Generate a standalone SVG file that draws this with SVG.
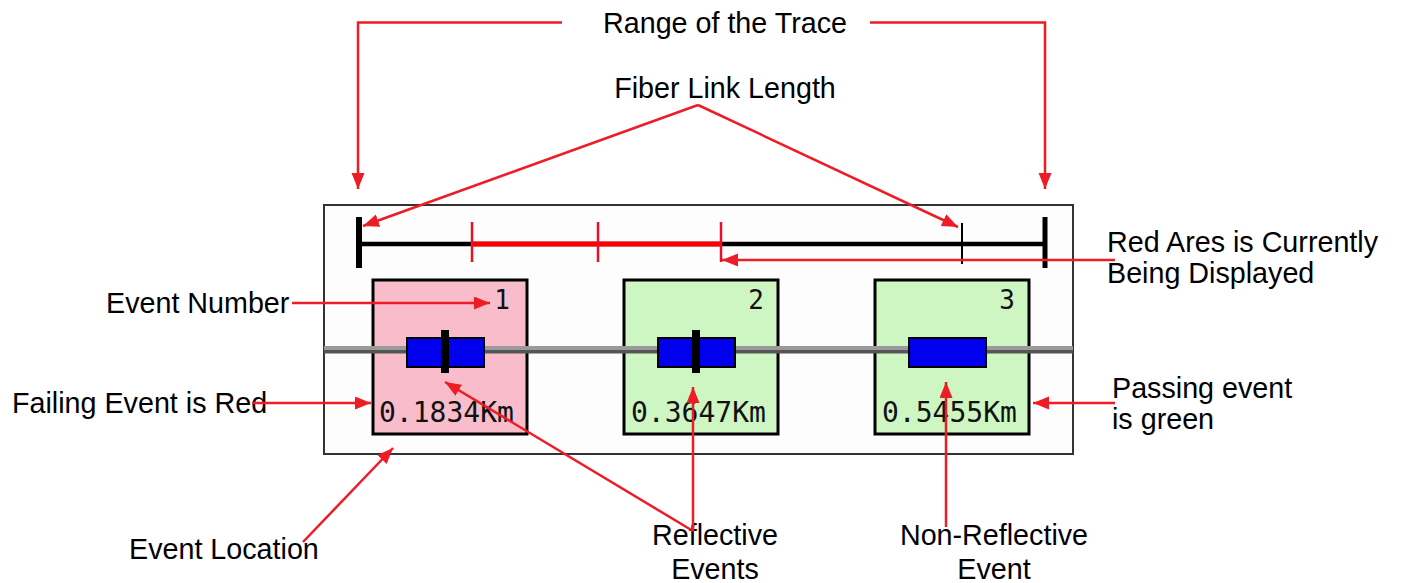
<svg xmlns="http://www.w3.org/2000/svg" width="1402" height="583" viewBox="0 0 1402 583">
<style>
.lbl{font-family:"Liberation Sans",Arial,sans-serif;font-size:28.7px;fill:#000}
.mono{font-family:"DejaVu Sans Mono","Liberation Mono",monospace;fill:#111}
.conn{stroke:#ee1c25;stroke-width:2.5;fill:none;marker-end:url(#ah)}
.evbox{stroke:#000;stroke-width:3}
.blue{fill:#0000ee;stroke:#000;stroke-width:2}
</style>
<defs>
<marker id="ah" markerUnits="userSpaceOnUse" markerWidth="17" markerHeight="14" refX="16" refY="6.5" orient="auto">
<path d="M0,0 L16,6.5 L0,13 Z" fill="#ee1c25"/>
</marker>
</defs>
<rect width="1402" height="583" fill="#fff"/>

<g id="panel">
<rect x="324" y="205" width="749" height="249" fill="#fdfdfd" stroke="#333" stroke-width="2"/>
</g>

<g id="scale">
<line x1="359" y1="244" x2="1045" y2="244" stroke="#000" stroke-width="4.5"/>
<line x1="472" y1="244" x2="721" y2="244" stroke="#f00" stroke-width="5"/>
<line x1="359" y1="217" x2="359" y2="268" stroke="#000" stroke-width="6"/>
<line x1="1045" y1="217" x2="1045" y2="268" stroke="#000" stroke-width="5"/>
<line x1="472" y1="222" x2="472" y2="262" stroke="#e8102a" stroke-width="2.5"/>
<line x1="598" y1="222" x2="598" y2="262" stroke="#e8102a" stroke-width="2.5"/>
<line x1="721" y1="222" x2="721" y2="262" stroke="#e8102a" stroke-width="2.5"/>
<line x1="962" y1="223" x2="962" y2="264" stroke="#000" stroke-width="2"/>
</g>

<g id="event1">
<rect class="evbox" x="373" y="280" width="154" height="154" fill="#f8bccb"/>
</g>
<g id="event2">
<rect class="evbox" x="624" y="280" width="154" height="154" fill="#cdf6c2"/>
</g>
<g id="event3">
<rect class="evbox" x="875" y="280" width="154" height="154" fill="#cdf6c2"/>
</g>

<g id="fiber">
<rect x="324" y="346" width="749" height="4" fill="#9a9a9a"/>
<rect x="324" y="350" width="749" height="3.5" fill="#555"/>
</g>

<g id="event1-marks">
<rect class="blue" x="407" y="338" width="77" height="29"/>
<rect x="441" y="330" width="8" height="43" fill="#000"/>
<text class="mono" x="510" y="309" font-size="26" text-anchor="end">1</text>
<text class="mono" x="379" y="422" font-size="28">0.1834Km</text>
</g>
<g id="event2-marks">
<rect class="blue" x="658" y="338" width="77" height="29"/>
<rect x="692" y="330" width="8" height="43" fill="#000"/>
<text class="mono" x="764" y="309" font-size="26" text-anchor="end">2</text>
<text class="mono" x="631" y="422" font-size="28">0.3647Km</text>
</g>
<g id="event3-marks">
<rect class="blue" x="909" y="338" width="77" height="29"/>
<text class="mono" x="1015" y="309" font-size="26" text-anchor="end">3</text>
<text class="mono" x="882" y="422" font-size="28">0.5455Km</text>
</g>

<g id="labels">
<text class="lbl" x="725" y="33" text-anchor="middle">Range of the Trace</text>
<text class="lbl" x="725" y="98" text-anchor="middle">Fiber Link Length</text>
<text class="lbl" x="1107" y="252">Red Ares is Currently</text>
<text class="lbl" x="1107" y="283">Being Displayed</text>
<text class="lbl" x="106" y="313">Event Number</text>
<text class="lbl" x="12" y="413">Failing Event is Red</text>
<text class="lbl" x="129" y="559">Event Location</text>
<text class="lbl" x="1112" y="398">Passing event</text>
<text class="lbl" x="1112" y="429">is green</text>
<text class="lbl" x="715" y="545" text-anchor="middle">Reflective</text>
<text class="lbl" x="715" y="579" text-anchor="middle">Events</text>
<text class="lbl" x="994" y="545" text-anchor="middle">Non-Reflective</text>
<text class="lbl" x="994" y="579" text-anchor="middle">Event</text>
</g>

<g id="connectors">
<polyline class="conn" points="562,22.5 358,22.5 358,189"/>
<polyline class="conn" points="870,22.5 1045,22.5 1045,189"/>
<line class="conn" x1="698" y1="105" x2="363" y2="226"/>
<line class="conn" x1="698" y1="105" x2="958" y2="227"/>
<line class="conn" x1="1115" y1="260" x2="722" y2="260"/>
<line class="conn" x1="292" y1="303" x2="490" y2="303"/>
<line class="conn" x1="252" y1="403" x2="371" y2="403"/>
<line class="conn" x1="303" y1="542" x2="393" y2="448"/>
<line class="conn" x1="693" y1="531" x2="693" y2="387"/>
<line class="conn" x1="693" y1="531" x2="445" y2="382"/>
<line class="conn" x1="946" y1="527" x2="946" y2="382"/>
<line class="conn" x1="1115" y1="403" x2="1033" y2="403"/>
</g>
</svg>
